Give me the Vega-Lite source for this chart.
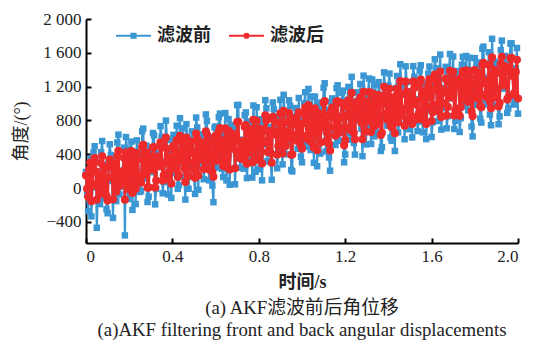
{
  "$schema": "https://vega.github.io/schema/vega-lite/v6.json",
  "width": 432,
  "height": 224,
  "autosize": "none",
  "padding": {"left": 86, "top": 19, "right": 30, "bottom": 98},
  "background": "white",
  "title": {
    "text": ["(a) AKF滤波前后角位移", "(a)AKF filtering front and back angular displacements"],
    "orient": "bottom",
    "anchor": "middle",
    "font": "Liberation Serif, Noto Sans CJK SC",
    "fontSize": 18.8,
    "fontWeight": "normal",
    "color": "#222",
    "lineHeight": 22,
    "offset": 8
  },
  "data": {"values": [
    {"t":0,"b":190,"r":150},{"t":0.01,"b":-274,"r":-104},{"t":0.02,"b":342,"r":302},{"t":0.03,"b":8,"r":28},{"t":0.04,"b":495,"r":355},
    {"t":0.05,"b":-470,"r":-139},{"t":0.06,"b":197,"r":147},{"t":0.07,"b":423,"r":293},{"t":0.08,"b":-121,"r":-21},{"t":0.09,"b":275,"r":245},
    {"t":0.1,"b":-298,"r":-148},{"t":0.11,"b":518,"r":338},{"t":0.12,"b":84,"r":124},{"t":0.13,"b":370,"r":290},{"t":0.14,"b":-154,"r":-44},
    {"t":0.15,"b":632,"r":442},{"t":0.16,"b":18,"r":68},{"t":0.17,"b":205,"r":195},{"t":0.18,"b":-560,"r":-139},{"t":0.19,"b":467,"r":347},
    {"t":0.2,"b":3,"r":73},{"t":0.21,"b":549,"r":439},{"t":0.22,"b":285,"r":265},{"t":0.23,"b":-189,"r":-9},{"t":0.24,"b":408,"r":338},
    {"t":0.25,"b":-46,"r":64},{"t":0.26,"b":670,"r":490},{"t":0.27,"b":116,"r":156},{"t":0.28,"b":502,"r":422},{"t":0.29,"b":-102,"r":8},
    {"t":0.3,"b":315,"r":295},{"t":0.31,"b":651,"r":481},{"t":0.32,"b":-193,"r":7},{"t":0.33,"b":413,"r":373},{"t":0.34,"b":249,"r":259},
    {"t":0.35,"b":605,"r":485},{"t":0.36,"b":71,"r":151},{"t":0.37,"b":798,"r":598},{"t":0.38,"b":-76,"r":104},{"t":0.39,"b":410,"r":370},
    {"t":0.4,"b":566,"r":476},{"t":0.41,"b":182,"r":222},{"t":0.42,"b":738,"r":568},{"t":0.43,"b":34,"r":154},{"t":0.44,"b":321,"r":321},
    {"t":0.45,"b":707,"r":567},{"t":0.46,"b":-137,"r":73},{"t":0.47,"b":539,"r":479},{"t":0.48,"b":275,"r":305},{"t":0.49,"b":671,"r":551},
    {"t":0.5,"b":128,"r":218},{"t":0.51,"b":834,"r":644},{"t":0.52,"b":-20,"r":150},{"t":0.53,"b":466,"r":436},{"t":0.54,"b":632,"r":542},
    {"t":0.55,"b":248,"r":308},{"t":0.56,"b":794,"r":634},{"t":0.57,"b":91,"r":221},{"t":0.58,"b":547,"r":507},{"t":0.59,"b":-167,"r":133},
    {"t":0.6,"b":729,"r":619},{"t":0.61,"b":375,"r":405},{"t":0.62,"b":881,"r":711},{"t":0.63,"b":227,"r":317},{"t":0.64,"b":624,"r":564},
    {"t":0.65,"b":90,"r":250},{"t":0.66,"b":816,"r":676},{"t":0.67,"b":472,"r":482},{"t":0.68,"b":698,"r":608},{"t":0.69,"b":44,"r":234},
    {"t":0.7,"b":981,"r":781},{"t":0.71,"b":387,"r":427},{"t":0.72,"b":573,"r":553},{"t":0.73,"b":229,"r":339},{"t":0.74,"b":895,"r":745},
    {"t":0.75,"b":331,"r":411},{"t":0.76,"b":787,"r":697},{"t":0.77,"b":124,"r":304},{"t":0.78,"b":660,"r":610},{"t":0.79,"b":956,"r":796},
    {"t":0.8,"b":222,"r":362},{"t":0.81,"b":758,"r":688},{"t":0.82,"b":514,"r":534},{"t":0.83,"b":1040,"r":860},{"t":0.84,"b":317,"r":427},
    {"t":0.85,"b":723,"r":673},{"t":0.86,"b":99,"r":299},{"t":0.87,"b":935,"r":805},{"t":0.88,"b":631,"r":631},{"t":0.89,"b":437,"r":497},
    {"t":0.9,"b":1044,"r":884},{"t":0.91,"b":280,"r":410},{"t":0.92,"b":876,"r":776},{"t":0.93,"b":552,"r":582},{"t":0.94,"b":1038,"r":888},
    {"t":0.95,"b":214,"r":394},{"t":0.96,"b":810,"r":760},{"t":0.97,"b":947,"r":827},{"t":0.98,"b":463,"r":553},{"t":0.99,"b":729,"r":719},
    {"t":1,"b":305,"r":465},{"t":1.01,"b":1001,"r":871},{"t":1.02,"b":557,"r":617},{"t":1.03,"b":1173,"r":983},{"t":1.04,"b":450,"r":550},
    {"t":1.05,"b":806,"r":776},{"t":1.06,"b":1082,"r":942},{"t":1.07,"b":258,"r":448},{"t":1.08,"b":934,"r":854},{"t":1.09,"b":710,"r":720},
    {"t":1.1,"b":1187,"r":1007},{"t":1.11,"b":433,"r":553},{"t":1.12,"b":929,"r":859},{"t":1.13,"b":205,"r":445},{"t":1.14,"b":1061,"r":951},
    {"t":1.15,"b":667,"r":717},{"t":1.16,"b":1183,"r":1023},{"t":1.17,"b":560,"r":650},{"t":1.18,"b":856,"r":836},{"t":1.19,"b":1152,"r":1002},
    {"t":1.2,"b":398,"r":568},{"t":1.21,"b":1044,"r":954},{"t":1.22,"b":650,"r":720},{"t":1.23,"b":1316,"r":1126},{"t":1.24,"b":533,"r":653},
    {"t":1.25,"b":979,"r":919},{"t":1.26,"b":805,"r":825},{"t":1.27,"b":1231,"r":1071},{"t":1.28,"b":377,"r":577},{"t":1.29,"b":1123,"r":1023},
    {"t":1.3,"b":720,"r":790},{"t":1.31,"b":1296,"r":1136},{"t":1.32,"b":522,"r":662},{"t":1.33,"b":968,"r":948},{"t":1.34,"b":1224,"r":1094},
    {"t":1.35,"b":650,"r":760},{"t":1.36,"b":1096,"r":1026},{"t":1.37,"b":483,"r":653},{"t":1.38,"b":1369,"r":1199},{"t":1.39,"b":845,"r":885},
    {"t":1.4,"b":1211,"r":1091},{"t":1.41,"b":597,"r":737},{"t":1.42,"b":1063,"r":1023},{"t":1.43,"b":439,"r":649},{"t":1.44,"b":1326,"r":1176},
    {"t":1.45,"b":772,"r":842},{"t":1.46,"b":1208,"r":1108},{"t":1.47,"b":914,"r":934},{"t":1.48,"b":1440,"r":1260},{"t":1.49,"b":696,"r":806},
    {"t":1.5,"b":1143,"r":1093},{"t":1.51,"b":599,"r":759},{"t":1.52,"b":1315,"r":1185},{"t":1.53,"b":1051,"r":1031},{"t":1.54,"b":787,"r":877},
    {"t":1.55,"b":1453,"r":1283},{"t":1.56,"b":659,"r":809},{"t":1.57,"b":1236,"r":1156},{"t":1.58,"b":922,"r":962},{"t":1.59,"b":1438,"r":1288},
    {"t":1.6,"b":604,"r":794},{"t":1.61,"b":1220,"r":1160},{"t":1.62,"b":1416,"r":1266},{"t":1.63,"b":792,"r":912},{"t":1.64,"b":1579,"r":1379},
    {"t":1.65,"b":945,"r":1005},{"t":1.66,"b":1161,"r":1131},{"t":1.67,"b":707,"r":857},{"t":1.68,"b":1373,"r":1263},{"t":1.69,"b":1089,"r":1089},
    {"t":1.7,"b":1556,"r":1376},{"t":1.71,"b":792,"r":922},{"t":1.72,"b":1308,"r":1248},{"t":1.73,"b":664,"r":854},{"t":1.74,"b":1460,"r":1320},
    {"t":1.75,"b":1046,"r":1086},{"t":1.76,"b":1562,"r":1392},{"t":1.77,"b":919,"r":1019},{"t":1.78,"b":1295,"r":1245},{"t":1.79,"b":611,"r":851},
    {"t":1.8,"b":1537,"r":1397},{"t":1.81,"b":983,"r":1063},{"t":1.82,"b":1439,"r":1329},{"t":1.83,"b":775,"r":955},{"t":1.84,"b":1672,"r":1482},
    {"t":1.85,"b":1048,"r":1108},{"t":1.86,"b":1304,"r":1274},{"t":1.87,"b":870,"r":1020},{"t":1.88,"b":1766,"r":1546},{"t":1.89,"b":972,"r":1072},
    {"t":1.9,"b":1449,"r":1359},{"t":1.91,"b":755,"r":965},{"t":1.92,"b":1631,"r":1471},{"t":1.93,"b":1177,"r":1217},{"t":1.94,"b":1563,"r":1443},
    {"t":1.95,"b":889,"r":1049},{"t":1.96,"b":1445,"r":1375},{"t":1.97,"b":1712,"r":1542},{"t":1.98,"b":988,"r":1108},{"t":1.99,"b":1414,"r":1374},
    {"t":2,"b":880,"r":1060},
    {"t":0.005,"b":-77,"r":-7},{"t":0.015,"b":139,"r":219},{"t":0.025,"b":-335,"r":-155},{"t":0.035,"b":421,"r":291},{"t":0.045,"b":308,"r":198},
    {"t":0.055,"b":14,"r":64},{"t":0.065,"b":-190,"r":-70},{"t":0.075,"b":556,"r":376},{"t":0.085,"b":102,"r":122},{"t":0.095,"b":-252,"r":-92},
    {"t":0.105,"b":305,"r":255},{"t":0.115,"b":391,"r":301},{"t":0.125,"b":-353,"r":-133},{"t":0.135,"b":253,"r":213},{"t":0.145,"b":539,"r":379},
    {"t":0.155,"b":-75,"r":25},{"t":0.165,"b":111,"r":151},{"t":0.175,"b":478,"r":358},{"t":0.185,"b":604,"r":424},{"t":0.195,"b":-130,"r":-10},
    {"t":0.205,"b":336,"r":276},{"t":0.215,"b":-258,"r":-58},{"t":0.225,"b":428,"r":348},{"t":0.235,"b":564,"r":414},{"t":0.245,"b":91,"r":141},
    {"t":0.255,"b":-33,"r":67},{"t":0.265,"b":703,"r":513},{"t":0.275,"b":269,"r":259},{"t":0.285,"b":-165,"r":5},{"t":0.295,"b":441,"r":371},
    {"t":0.305,"b":188,"r":218},{"t":0.315,"b":624,"r":484},{"t":0.325,"b":-10,"r":90},{"t":0.335,"b":366,"r":336},{"t":0.345,"b":732,"r":542},
    {"t":0.355,"b":-62,"r":88},{"t":0.365,"b":304,"r":294},{"t":0.375,"b":571,"r":461},{"t":0.385,"b":117,"r":187},{"t":0.395,"b":-117,"r":53},
    {"t":0.405,"b":629,"r":499},{"t":0.415,"b":445,"r":405},{"t":0.425,"b":-9,"r":131},{"t":0.435,"b":827,"r":617},{"t":0.445,"b":294,"r":324},
    {"t":0.455,"b":130,"r":230},{"t":0.465,"b":756,"r":596},{"t":0.475,"b":-8,"r":142},{"t":0.485,"b":528,"r":468},{"t":0.495,"b":434,"r":414},
    {"t":0.505,"b":-69,"r":121},{"t":0.515,"b":717,"r":587},{"t":0.525,"b":633,"r":533},{"t":0.535,"b":289,"r":339},{"t":0.545,"b":105,"r":225},
    {"t":0.555,"b":871,"r":671},{"t":0.565,"b":387,"r":397},{"t":0.575,"b":604,"r":544},{"t":0.585,"b":30,"r":190},{"t":0.595,"b":716,"r":596},
    {"t":0.605,"b":242,"r":322},{"t":0.615,"b":838,"r":668},{"t":0.625,"b":504,"r":494},{"t":0.635,"b":130,"r":260},{"t":0.645,"b":887,"r":707},
    {"t":0.655,"b":313,"r":373},{"t":0.665,"b":39,"r":219},{"t":0.675,"b":745,"r":645},{"t":0.685,"b":621,"r":571},{"t":0.695,"b":407,"r":437},
    {"t":0.705,"b":984,"r":784},{"t":0.715,"b":240,"r":350},{"t":0.725,"b":536,"r":536},{"t":0.735,"b":862,"r":722},{"t":0.745,"b":118,"r":288},
    {"t":0.755,"b":734,"r":654},{"t":0.765,"b":420,"r":460},{"t":0.775,"b":977,"r":807},{"t":0.785,"b":193,"r":333},{"t":0.795,"b":629,"r":599},
    {"t":0.805,"b":815,"r":705},{"t":0.815,"b":91,"r":291},{"t":0.825,"b":727,"r":677},{"t":0.835,"b":943,"r":803},{"t":0.845,"b":550,"r":570},
    {"t":0.855,"b":306,"r":416},{"t":0.865,"b":1012,"r":842},{"t":0.875,"b":698,"r":668},{"t":0.885,"b":234,"r":394},{"t":0.895,"b":850,"r":760},
    {"t":0.905,"b":477,"r":527},{"t":0.915,"b":1103,"r":913},{"t":0.925,"b":399,"r":499},{"t":0.935,"b":685,"r":665},{"t":0.945,"b":971,"r":831},
    {"t":0.955,"b":197,"r":397},{"t":0.965,"b":843,"r":763},{"t":0.975,"b":590,"r":630},{"t":0.985,"b":1066,"r":896},{"t":0.995,"b":372,"r":502},
    {"t":1.005,"b":808,"r":768},{"t":1.015,"b":1134,"r":954},{"t":1.025,"b":490,"r":580},{"t":1.035,"b":656,"r":666},{"t":1.045,"b":1083,"r":933},
    {"t":1.055,"b":299,"r":479},{"t":1.065,"b":885,"r":825},{"t":1.075,"b":1011,"r":891},{"t":1.085,"b":407,"r":537},{"t":1.095,"b":763,"r":763},
    {"t":1.105,"b":1240,"r":1030},{"t":1.115,"b":586,"r":656},{"t":1.125,"b":362,"r":522},{"t":1.135,"b":1018,"r":908},{"t":1.145,"b":874,"r":834},
    {"t":1.155,"b":510,"r":620},{"t":1.165,"b":1216,"r":1026},{"t":1.175,"b":653,"r":713},{"t":1.185,"b":1129,"r":999},{"t":1.195,"b":305,"r":505},
    {"t":1.205,"b":871,"r":851},{"t":1.215,"b":1197,"r":1037},{"t":1.225,"b":573,"r":683},{"t":1.235,"b":1019,"r":949},{"t":1.245,"b":396,"r":576},
    {"t":1.255,"b":1132,"r":1022},{"t":1.265,"b":858,"r":848},{"t":1.275,"b":704,"r":774},{"t":1.285,"b":1330,"r":1140},{"t":1.295,"b":516,"r":666},
    {"t":1.305,"b":1083,"r":993},{"t":1.315,"b":819,"r":839},{"t":1.325,"b":1285,"r":1125},{"t":1.335,"b":611,"r":731},{"t":1.345,"b":777,"r":817},
    {"t":1.355,"b":1253,"r":1103},{"t":1.365,"b":439,"r":629},{"t":1.375,"b":1056,"r":996},{"t":1.385,"b":1182,"r":1082},{"t":1.395,"b":738,"r":808},
    {"t":1.405,"b":1354,"r":1174},{"t":1.415,"b":560,"r":720},{"t":1.425,"b":1026,"r":986},{"t":1.435,"b":1182,"r":1092},{"t":1.445,"b":659,"r":779},
    {"t":1.455,"b":1465,"r":1265},{"t":1.465,"b":871,"r":911},{"t":1.475,"b":577,"r":737},{"t":1.485,"b":1253,"r":1143},{"t":1.495,"b":1139,"r":1069},
    {"t":1.505,"b":766,"r":856},{"t":1.515,"b":1442,"r":1262},{"t":1.525,"b":988,"r":988},{"t":1.535,"b":674,"r":814},{"t":1.545,"b":1390,"r":1240},
    {"t":1.555,"b":856,"r":926},{"t":1.565,"b":1142,"r":1092},{"t":1.575,"b":579,"r":759},{"t":1.585,"b":1355,"r":1225},{"t":1.595,"b":1091,"r":1071},
    {"t":1.605,"b":777,"r":897},{"t":1.615,"b":1523,"r":1343},{"t":1.625,"b":949,"r":989},{"t":1.635,"b":1275,"r":1195},{"t":1.645,"b":692,"r":842},
    {"t":1.655,"b":1178,"r":1148},{"t":1.665,"b":1434,"r":1294},{"t":1.675,"b":850,"r":960},{"t":1.685,"b":1586,"r":1386},{"t":1.695,"b":1062,"r":1072},
    {"t":1.705,"b":699,"r":859},{"t":1.715,"b":1385,"r":1285},{"t":1.725,"b":1261,"r":1211},{"t":1.735,"b":827,"r":957},{"t":1.745,"b":1553,"r":1383},
    {"t":1.755,"b":969,"r":1049},{"t":1.765,"b":1185,"r":1175},{"t":1.775,"b":1542,"r":1382},{"t":1.785,"b":728,"r":908},{"t":1.795,"b":1394,"r":1294},
    {"t":1.805,"b":1090,"r":1120},{"t":1.815,"b":1486,"r":1366},{"t":1.825,"b":822,"r":972},{"t":1.835,"b":1648,"r":1458},{"t":1.845,"b":1275,"r":1245},
    {"t":1.855,"b":991,"r":1071},{"t":1.865,"b":1607,"r":1457},{"t":1.875,"b":743,"r":943},{"t":1.885,"b":1389,"r":1329},{"t":1.895,"b":1495,"r":1395},
    {"t":1.905,"b":1102,"r":1162},{"t":1.915,"b":848,"r":1008},{"t":1.925,"b":1744,"r":1554},{"t":1.935,"b":1200,"r":1220},{"t":1.945,"b":1466,"r":1386},
    {"t":1.955,"b":942,"r":1072},{"t":1.965,"b":1708,"r":1538},{"t":1.975,"b":1335,"r":1325},{"t":1.985,"b":1021,"r":1131},{"t":1.995,"b":1657,"r":1517}
  ]},
  "transform": [{"fold": ["b", "r"], "as": ["s", "v"]}],
  "encoding": {
    "x": {
      "field": "t",
      "type": "quantitative",
      "scale": {"domain": [0, 2], "nice": false, "zero": false},
      "axis": {
        "title": "时间/s",
        "values": [0, 0.4, 0.8, 1.2, 1.6, 2.0],
        "labelExpr": "datum.value == 0 ? '0' : format(datum.value, '.1f')",
        "labelFont": "Liberation Serif",
        "labelOverlap": false,
        "titlePadding": 9
      }
    },
    "y": {
      "field": "v",
      "type": "quantitative",
      "scale": {"domain": [-650, 2000], "nice": false, "zero": false},
      "axis": {
        "title": "角度/(°)",
        "values": [-400, 0, 400, 800, 1200, 1600, 2000],
        "labelExpr": "replace(format(datum.value, ','), ',', ' ')",
        "labelFont": "Liberation Serif",
        "labelOverlap": false,
        "titleFontWeight": "normal",
        "titlePadding": 12
      }
    }
  },
  "layer": [
    {
      "transform": [{"filter": "datum.s === 'b'"}],
      "mark": {"type": "line", "strokeWidth": 2.2, "point": {"shape": "square", "filled": true, "size": 42}},
      "encoding": {
        "color": {
          "datum": "滤波前",
          "legend": {
            "encode": {
              "symbols": {
                "update": {
                  "shape": {"signal": "datum.value === '滤波前' ? 'M-1,0H1M-0.12,-0.12H0.12V0.12H-0.12Z' : 'M-1,0H1M0.12,0A0.12,0.12,0,1,1,-0.12,0A0.12,0.12,0,1,1,0.12,0Z'"},
                  "fill": {"scale": "color", "field": "value"},
                  "stroke": {"scale": "color", "field": "value"}
                }
              }
            }
          }
        }
      }
    },
    {
      "transform": [{"filter": "datum.s === 'r'"}],
      "mark": {"type": "line", "strokeWidth": 2.5, "point": {"shape": "circle", "filled": true, "size": 66}},
      "encoding": {
        "color": {"datum": "滤波后"}
      }
    }
  ],
  "config": {
    "view": {"stroke": null},
    "range": {"category": ["#3a97d4", "#ee2a2b"]},
    "axis": {
      "grid": false,
      "domainColor": "#000",
      "domainWidth": 2,
      "tickColor": "#000",
      "tickWidth": 2,
      "tickSize": -5,
      "labelPadding": 10,
      "labelOverlap": false,
      "labelFont": "Liberation Serif",
      "labelFontSize": 17,
      "labelColor": "#222",
      "titleFont": "Liberation Serif, Noto Sans CJK SC",
      "titleFontSize": 18,
      "titleFontWeight": "bold",
      "titleColor": "#222"
    },
    "legend": {
      "orient": "none",
      "legendX": 29,
      "legendY": -2,
      "direction": "horizontal",
      "title": null,
      "padding": 0,
      "labelFont": "Liberation Serif, Noto Sans CJK SC",
      "labelFontSize": 18,
      "labelFontWeight": "bold",
      "labelColor": "#222",
      "labelOffset": 5,
      "columnPadding": 14,
      "symbolSize": 1225,
      "symbolStrokeWidth": 2,
      "symbolType": "M-1,0H1"
    }
  }
}
